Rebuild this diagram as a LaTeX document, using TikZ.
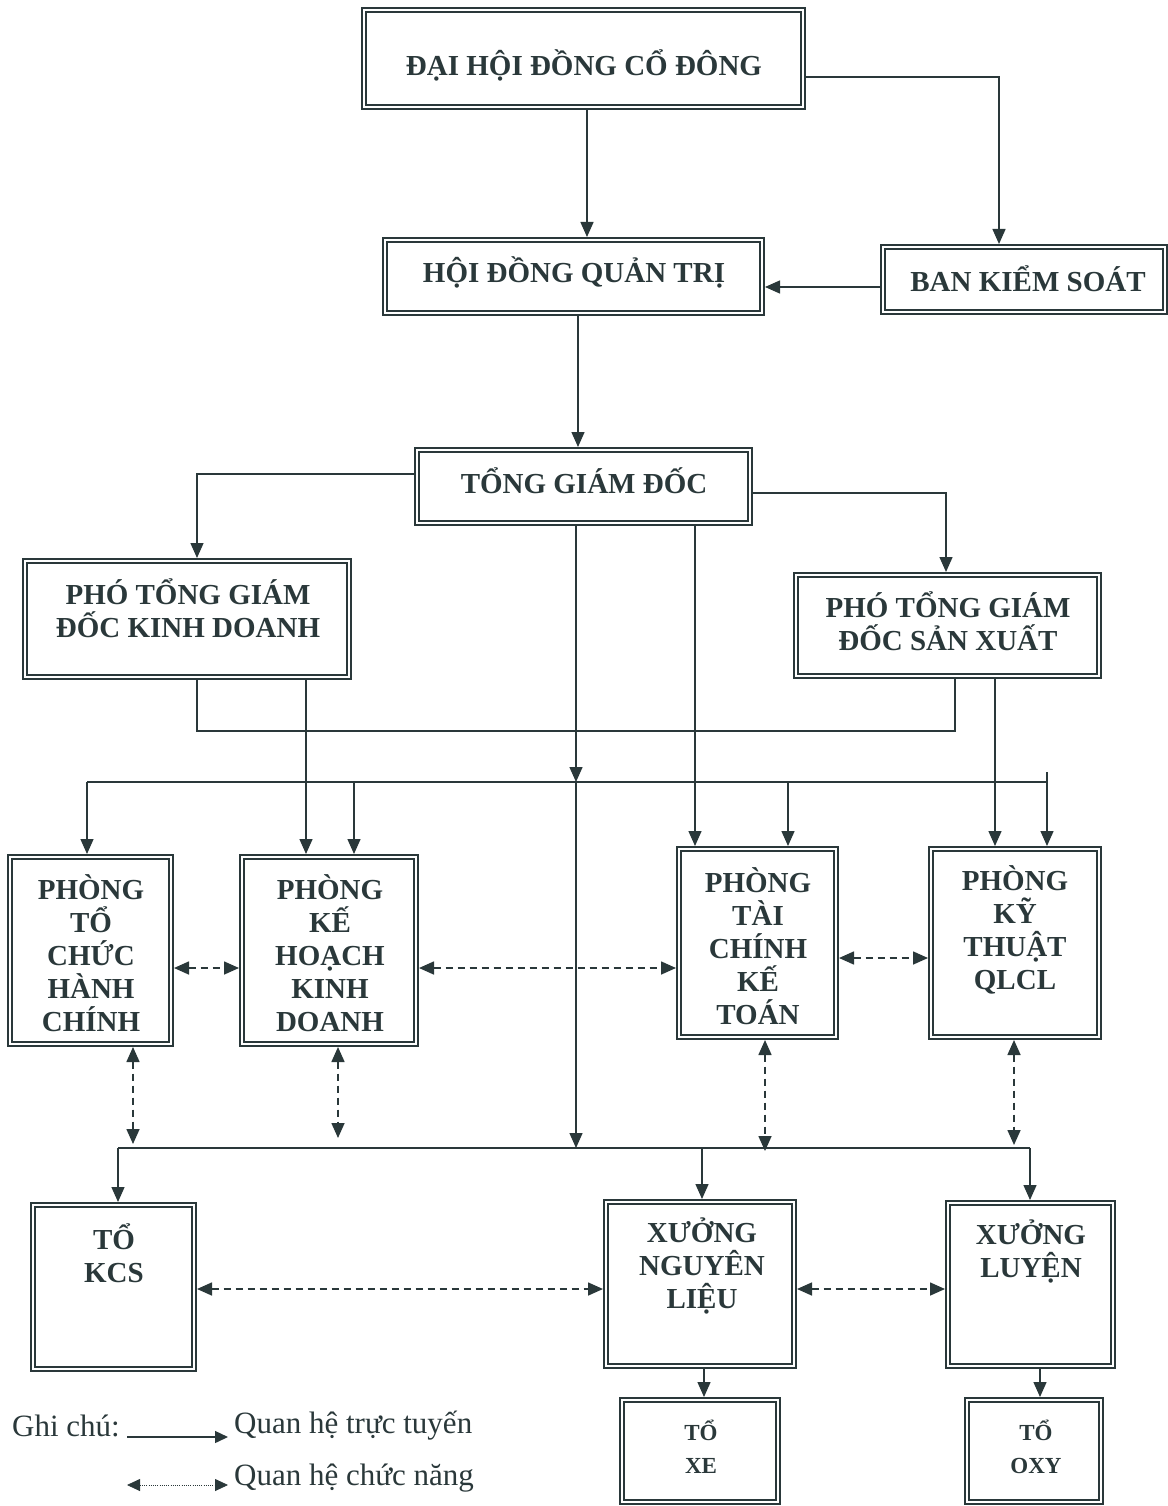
\documentclass[tikz,border=0pt]{standalone}
\usepackage{fontspec}
\setmainfont{Liberation Serif}
\usetikzlibrary{arrows.meta}
\definecolor{ink}{RGB}{42,56,58}
\begin{document}
\begin{tikzpicture}[x=1pt,y=-1pt,
  box/.style={draw=ink, double=white, line width=1.7pt, double distance=2.6pt, outer sep=3pt, inner sep=0pt},
  lbl/.style={text=ink, font=\fontsize{29}{33}\selectfont\bfseries, align=center, inner sep=0pt},
  sml/.style={text=ink, font=\fontsize{23}{33}\selectfont\bfseries, align=center, inner sep=0pt},
  leg/.style={text=ink, font=\fontsize{31}{34}\selectfont, anchor=west, inner sep=0pt},
  ln/.style={draw=ink, line width=1.4pt},
  arr/.style={ln, -{Triangle[length=15pt,width=13pt]}},
  dsh/.style={draw=ink, line width=1.6pt, dash pattern=on 7pt off 5pt, {Triangle[length=15pt,width=13pt]}-{Triangle[length=15pt,width=13pt]}},
  dot/.style={draw=ink, line width=0.8pt, dash pattern=on 1pt off 1.2pt, {Triangle[length=13pt,width=12pt]}-{Triangle[length=13pt,width=12pt]}}
]
\useasboundingbox (0,0) rectangle (1167,1506);

% boxes
\node[box, minimum width=439pt, minimum height=97pt] (dh) at (583.5,58.5) {};
\node[box, minimum width=377pt, minimum height=73pt] (hd) at (573.5,276.5) {};
\node[box, minimum width=282pt, minimum height=65pt] (bks) at (1024,279.5) {};
\node[box, minimum width=333pt, minimum height=73pt] (tgd) at (583.5,486.5) {};
\node[box, minimum width=324pt, minimum height=116pt] (pkd) at (187,619) {};
\node[box, minimum width=303pt, minimum height=101pt] (psx) at (947.5,625.5) {};
\node[box, minimum width=161pt, minimum height=187pt] (tchc) at (90.5,950.5) {};
\node[box, minimum width=174pt, minimum height=187pt] (khkd) at (329,950.5) {};
\node[box, minimum width=157pt, minimum height=188pt] (tckt) at (757.5,943) {};
\node[box, minimum width=168pt, minimum height=188pt] (ktql) at (1015,943) {};
\node[box, minimum width=161pt, minimum height=164pt] (kcs) at (113.5,1287) {};
\node[box, minimum width=188pt, minimum height=164pt] (xnl) at (700,1284) {};
\node[box, minimum width=165pt, minimum height=163pt] (xl) at (1030.5,1284.5) {};
\node[box, minimum width=156pt, minimum height=102pt] (txe) at (700,1451) {};
\node[box, minimum width=134pt, minimum height=102pt] (toxy) at (1034,1451) {};

% texts
\node[lbl] (dht) at (584,65) {ĐẠI HỘI ĐỒNG CỔ ĐÔNG};
\node[lbl] (hdt) at (574,272) {HỘI ĐỒNG QUẢN TRỊ};
\node[lbl] (bkst) at (1028,279) {BAN KIỂM SOÁT};
\node[lbl] (tgdt) at (584,481) {TỔNG GIÁM ĐỐC};
\node[lbl] (pkdt) at (188,608) {PHÓ TỔNG GIÁM\\ĐỐC KINH DOANH};
\node[lbl] (psxt) at (948,621) {PHÓ TỔNG GIÁM\\ĐỐC SẢN XUẤT};
\node[lbl] (tchct) at (91,953) {PHÒNG\\TỔ\\CHỨC\\HÀNH\\CHÍNH};
\node[lbl] (khkdt) at (330,953) {PHÒNG\\KẾ\\HOẠCH\\KINH\\DOANH};
\node[lbl] (tcktt) at (758,946) {PHÒNG\\TÀI\\CHÍNH\\KẾ\\TOÁN};
\node[lbl] (ktqlt) at (1015,930) {PHÒNG\\KỸ\\THUẬT\\QLCL};
\node[lbl] (kcst) at (114,1253) {TỔ\\KCS};
\node[lbl] (xnlt) at (702,1266) {XƯỞNG\\NGUYÊN\\LIỆU};
\node[lbl] (xlt) at (1031,1251) {XƯỞNG\\LUYỆN};
\node[sml] (txet) at (701,1447) {TỔ\\XE};
\node[sml] (toxyt) at (1036,1447) {TỔ\\OXY};

% bus coordinates
\coordinate (bL) at (955,731);
\coordinate (m1) at (576,782);
\coordinate (m2) at (576,1148);
\coordinate (b1L) at (87,782);
\coordinate (b1a) at (354,782);
\coordinate (b1b) at (788,782);
\coordinate (b1R) at (1047,782);
\coordinate (b1S) at (1047,772);
\coordinate (b2L) at (118,1148);
\coordinate (b2a) at (702,1148);
\coordinate (b2R) at (1030,1148);
\coordinate (d1) at (133,1144);
\coordinate (d2) at (338,1138);
\coordinate (d3) at (765,1151);
\coordinate (d4) at (1014,1145);

% solid connectors
\draw[arr] ([xshift=3.5pt]dh.south) -- ([xshift=13.5pt]hd.north);
\draw[arr] ([yshift=-18.5pt]dh.east) -| ([xshift=-25pt]bks.north);
\draw[arr] ([yshift=-7.5pt]bks.west) -- ([yshift=-10.5pt]hd.east);
\draw[arr] ([xshift=4.5pt]hd.south) -- ([xshift=-5.5pt]tgd.north);
\draw[arr] ([yshift=12.5pt]tgd.west) -| ([xshift=10pt]pkd.north);
\draw[arr] ([yshift=-6.5pt]tgd.east) -| ([xshift=-1.5pt]psx.north);
\draw[ln] ([xshift=10pt]pkd.south) |- (bL) -- ([xshift=7.5pt]psx.south);
\draw[arr] ([xshift=119pt]pkd.south) -- ([xshift=-23pt]khkd.north);
\draw[arr] ([xshift=47.5pt]psx.south) -- ([xshift=-20pt]ktql.north);
\draw[arr] ([xshift=-7.5pt]tgd.south) -- (m1);
\draw[arr] (m1) -- (m2);
\draw[arr] ([xshift=111.5pt]tgd.south) -- ([xshift=-62.5pt]tckt.north);

\draw[ln] (b1L) -- (b1R);
\draw[arr] (b1L) -- ([xshift=-3.5pt]tchc.north);
\draw[arr] (b1a) -- ([xshift=25pt]khkd.north);
\draw[arr] (b1b) -- ([xshift=30.5pt]tckt.north);
\draw[arr] (b1S) -- ([xshift=32pt]ktql.north);

\draw[ln] (b2L) -- (b2R);
\draw[arr] (b2L) -- ([xshift=4.5pt]kcs.north);
\draw[arr] (b2a) -- ([xshift=2pt]xnl.north);
\draw[arr] (b2R) -- ([xshift=-0.5pt]xl.north);

\draw[arr] ([xshift=4pt]xnl.south) -- ([xshift=4pt]txe.north);
\draw[arr] ([xshift=9.5pt]xl.south) -- ([xshift=6pt]toxy.north);

% dashed functional links
\draw[dsh] ([yshift=-17.5pt]tchc.east) -- ([yshift=-17.5pt]khkd.west);
\draw[dsh] ([yshift=-17.5pt]khkd.east) -- ([yshift=-25pt]tckt.west);
\draw[dsh] ([yshift=-15pt]tckt.east) -- ([yshift=-15pt]ktql.west);
\draw[dsh] ([xshift=42.5pt]tchc.south) -- (d1);
\draw[dsh] ([xshift=9pt]khkd.south) -- (d2);
\draw[dsh] ([xshift=7.5pt]tckt.south) -- (d3);
\draw[dsh] ([xshift=-1pt]ktql.south) -- (d4);
\draw[dsh] ([yshift=-2pt]kcs.east) -- ([yshift=-5pt]xnl.west);
\draw[dsh] ([yshift=-5pt]xnl.east) -- ([yshift=-4.5pt]xl.west);

% legend
\node[leg] (gc) at (12,1426) {Ghi chú:};
\node[leg] (q1) at (234,1426) {Quan hệ trực tuyến};
\node[leg] (q2) at (234,1478) {Quan hệ chức năng};
\coordinate (l1a) at (127,1437);
\coordinate (l1b) at (228,1437);
\coordinate (l2a) at (127,1485);
\coordinate (l2b) at (228,1485);
\draw[ln, -{Triangle[length=13pt,width=12pt]}] (l1a) -- (l1b);
\draw[dot] (l2a) -- (l2b);
\end{tikzpicture}
\end{document}
